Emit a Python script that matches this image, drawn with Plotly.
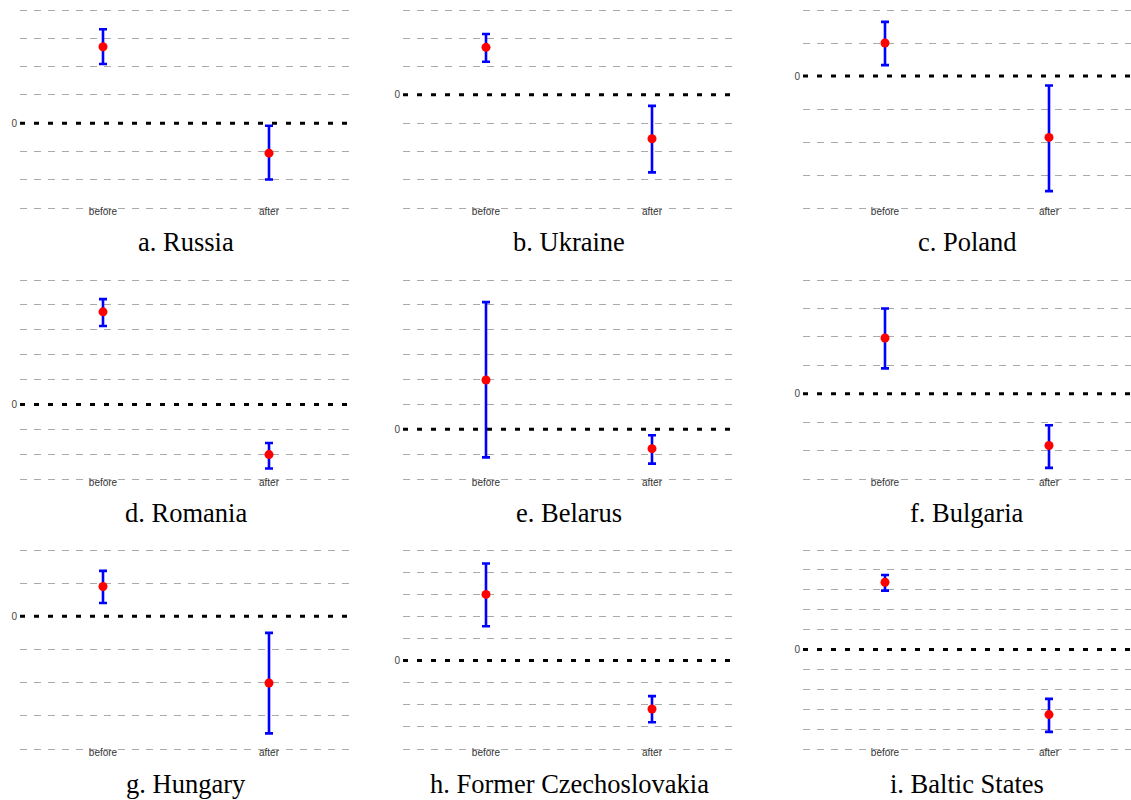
import plotly.graph_objects as go

# ---------------- data ----------------
titles = ["a. Russia", "b. Ukraine", "c. Poland",
          "d. Romania", "e. Belarus", "f. Bulgaria",
          "g. Hungary", "h. Former Czechoslovakia", "i. Baltic States"]
periods = ["before", "after"]

before_mean = [2.70, 1.68, 1.00, 3.72, 1.98, 1.96, 0.90, 2.99, 3.38]
before_hi = [3.32, 2.15, 1.64, 4.23, 5.11, 3.00, 1.37, 4.39, 3.74]
before_lo = [2.09, 1.17, 0.33, 3.15, -1.13, 0.89, 0.40, 1.55, 2.96]

after_mean = [-1.06, -1.55, -1.86, -2.02, -0.78, -1.82, -2.01, -2.19, -3.27]
after_hi = [-0.09, -0.39, -0.29, -1.55, -0.24, -1.11, -0.50, -1.61, -2.48]
after_lo = [-1.99, -2.74, -3.49, -2.58, -1.38, -2.61, -3.53, -2.79, -4.14]

y_min = [-3, -4, -4, -3, -2, -3, -4, -4, -5]
y_max = [4, 3, 2, 5, 6, 4, 2, 5, 5]

# ---------------- layout geometry (pixels) ----------------
W, H = 1131, 800
col_px = [(20, 352), (403, 735), (803, 1131)]
row_px = [(10, 208), (280, 479), (550, 749)]   # pixel rows of top / bottom gridline
title_y_px = [242, 513, 784]
PAD_PX = 3.0  # extra plot height so edge gridlines are drawn

fig = go.Figure()
layout = dict(
    width=W, height=H,
    margin=dict(l=0, r=0, t=0, b=0),
    paper_bgcolor="white", plot_bgcolor="white",
    showlegend=False,
    shapes=[], annotations=[],
)

for i in range(9):
    r, c = divmod(i, 3)
    n = i + 1
    xa = "x" if n == 1 else f"x{n}"
    ya = "y" if n == 1 else f"y{n}"
    xkey = "xaxis" if n == 1 else f"xaxis{n}"
    ykey = "yaxis" if n == 1 else f"yaxis{n}"

    means = [before_mean[i], after_mean[i]]
    hi = [before_hi[i], after_hi[i]]
    lo = [before_lo[i], after_lo[i]]
    plus = [h - m for h, m in zip(hi, means)]
    minus = [m - l for m, l in zip(means, lo)]

    fig.add_trace(go.Scatter(
        x=periods, y=means, mode="markers",
        marker=dict(color="#ff0000", size=9),
        error_y=dict(type="data", array=plus, arrayminus=minus,
                     color="#0000ff", thickness=2.6, width=4),
        xaxis=xa, yaxis=ya, cliponaxis=False,
    ))

    x0, x1 = col_px[c]
    top, bot = row_px[r]
    unit_px = (bot - top) / (y_max[i] - y_min[i])
    pad = PAD_PX / unit_px
    layout[xkey] = dict(
        domain=[x0 / W, x1 / W], anchor=ya,
        type="category", range=[-0.5, 1.5],
        showgrid=False, zeroline=False, showline=False, ticks="",
        ticklabelstandoff=-7,
        tickfont=dict(family="Arial, Liberation Sans", size=10, color="#333333"),
    )
    tv = list(range(y_min[i], y_max[i] + 1))
    layout[ykey] = dict(
        domain=[1 - (bot + PAD_PX) / H, 1 - (top - PAD_PX) / H], anchor=xa,
        range=[y_min[i] - pad, y_max[i] + pad],
        tickmode="array", tickvals=tv,
        ticktext=["0" if v == 0 else "" for v in tv],
        showgrid=True, gridcolor="#aaaaaa", gridwidth=1, griddash="7px,7px",
        zeroline=True, zerolinecolor="white", zerolinewidth=3,
        showline=False, ticks="",
        ticklabelstandoff=2,
        tickfont=dict(family="Arial, Liberation Sans", size=10, color="#444444"),
    )
    layout["shapes"].append(dict(
        type="line", xref=f"{xa} domain", yref=ya,
        x0=0, x1=1, y0=0, y1=0, layer="above",
        line=dict(color="black", width=3, dash="5px,9px"),
    ))
    layout["annotations"].append(dict(
        text=titles[i], xref="paper", yref="paper",
        x=(x0 + x1) / 2 / W, y=1 - title_y_px[r] / H,
        xanchor="center", yanchor="middle", showarrow=False,
        font=dict(family="Liberation Serif, Times New Roman, serif", size=26.5, color="black"),
    ))

fig.update_layout(**layout)
fig.write_html("out.html")
